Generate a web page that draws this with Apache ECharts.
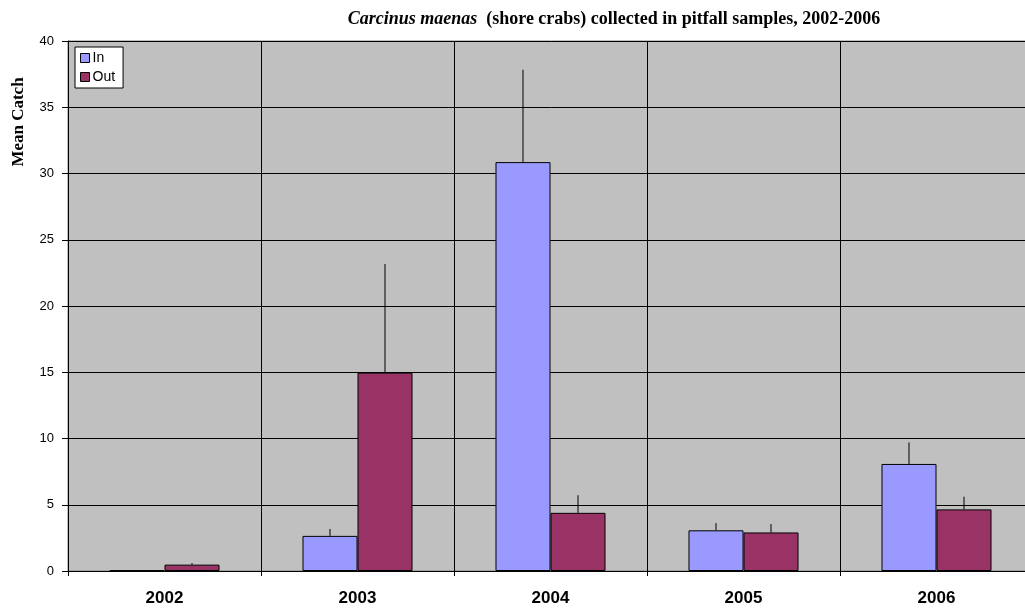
<!DOCTYPE html>
<html>
<head>
<meta charset="utf-8">
<script src="https://cdn.jsdelivr.net/npm/echarts@6/dist/echarts.min.js"></script>
<style>html,body{margin:0;padding:0;background:#fff;overflow:hidden}#c{width:1040px;height:613px}</style>
</head>
<body>
<div id="c"></div>
<script>
const years = ['2002', '2003', '2004', '2005', '2006'];
const inMean = [0.05, 2.65, 30.86, 3.07, 8.08];
const inErr = [0, 0.52, 6.97, 0.55, 1.62];
const outMean = [0.48, 14.97, 4.39, 2.91, 4.65];
const outErr = [0.12, 8.2, 1.33, 0.63, 0.96];
const yTicks = [0, 5, 10, 15, 20, 25, 30, 35, 40];

const chart = echarts.init(document.getElementById('c'));
const GAP = 0.43;

function errRender(sign, means, errs) {
  return function (params, api) {
    const i = api.value(0);
    const m = means[i], e = errs[i];
    const band = api.size([1, 0])[0];
    const off = sign * band * (1 - GAP) / 4;
    const p0 = api.coord([i, m]);
    const p1 = api.coord([i, m + e]);
    return {
      type: 'line',
      shape: { x1: p0[0] + off, y1: p0[1], x2: p1[0] + off, y2: p1[1] },
      style: { stroke: '#000', lineWidth: 1 }
    };
  };
}

chart.setOption({
  animation: false,
  backgroundColor: '#ffffff',
  title: {
    text: '{i|Carcinus maenas}{b|  (shore crabs) collected in pitfall samples, 2002-2006}',
    left: 609, top: 5, textAlign: 'center',
    textStyle: {
      rich: {
        i: { fontFamily: 'Liberation Serif', fontSize: 18, fontWeight: 'bold', fontStyle: 'italic', color: '#000' },
        b: { fontFamily: 'Liberation Serif', fontSize: 18, fontWeight: 'bold', color: '#000' }
      }
    }
  },
  legend: {
    data: ['In', 'Out'],
    orient: 'vertical',
    left: 75, top: 47,
    icon: 'rect',
    itemWidth: 9, itemHeight: 9, itemGap: 5,
    padding: [4, 8, 4, 5],
    backgroundColor: '#ffffff',
    borderColor: '#000', borderWidth: 1,
    textStyle: { fontFamily: 'Liberation Sans', fontSize: 14, color: '#000', padding: [0, 0, 0, -2] },
    itemStyle: { borderColor: '#000', borderWidth: 1 }
  },
  graphic: [{
    type: 'text',
    x: 19, y: 122,
    rotation: Math.PI / 2,
    style: {
      text: 'Mean Catch',
      font: 'bold 17px "Liberation Serif"',
      fill: '#000',
      textAlign: 'center',
      textVerticalAlign: 'middle'
    }
  }],
  grid: {
    left: 68, width: 965, top: 41, bottom: 42,
    show: true, backgroundColor: '#C0C0C0', borderColor: '#808080', borderWidth: 1
  },
  xAxis: {
    type: 'category',
    data: years,
    axisLine: { lineStyle: { color: '#000', width: 1 } },
    axisTick: { show: true, length: 5, lineStyle: { color: '#000' } },
    axisLabel: { fontFamily: 'Liberation Sans', fontSize: 17, fontWeight: 'bold', color: '#000', margin: 19 },
    splitLine: { show: true, lineStyle: { color: '#000', width: 1 } }
  },
  yAxis: {
    type: 'value',
    min: 0, max: 40, interval: 5,
    axisLine: { show: true, lineStyle: { color: '#000', width: 1 } },
    axisTick: { show: true, length: 6, lineStyle: { color: '#000' } },
    axisLabel: {
      fontFamily: 'Liberation Sans', fontSize: 13, color: '#000', margin: 14,
      formatter: v => yTicks.includes(v) ? String(v) : ''
    },
    splitLine: { show: true, lineStyle: { color: '#000', width: 1 } }
  },
  series: [
    {
      name: 'In', type: 'bar', data: inMean,
      barGap: '0%', barCategoryGap: (GAP * 100) + '%',
      itemStyle: { color: '#9999FF', borderColor: '#000', borderWidth: 1 }
    },
    {
      name: 'Out', type: 'bar', data: outMean,
      barGap: '0%', barCategoryGap: (GAP * 100) + '%',
      itemStyle: { color: '#993366', borderColor: '#000', borderWidth: 1 }
    },
    {
      type: 'custom', name: 'In err',
      renderItem: errRender(-1, inMean, inErr),
      data: years.map((y, i) => [i, inMean[i] + inErr[i]]),
      encode: { x: 0, y: 1 }, z: 5, silent: true
    },
    {
      type: 'custom', name: 'Out err',
      renderItem: errRender(1, outMean, outErr),
      data: years.map((y, i) => [i, outMean[i] + outErr[i]]),
      encode: { x: 0, y: 1 }, z: 5, silent: true
    }
  ]
});
</script>
</body>
</html>
